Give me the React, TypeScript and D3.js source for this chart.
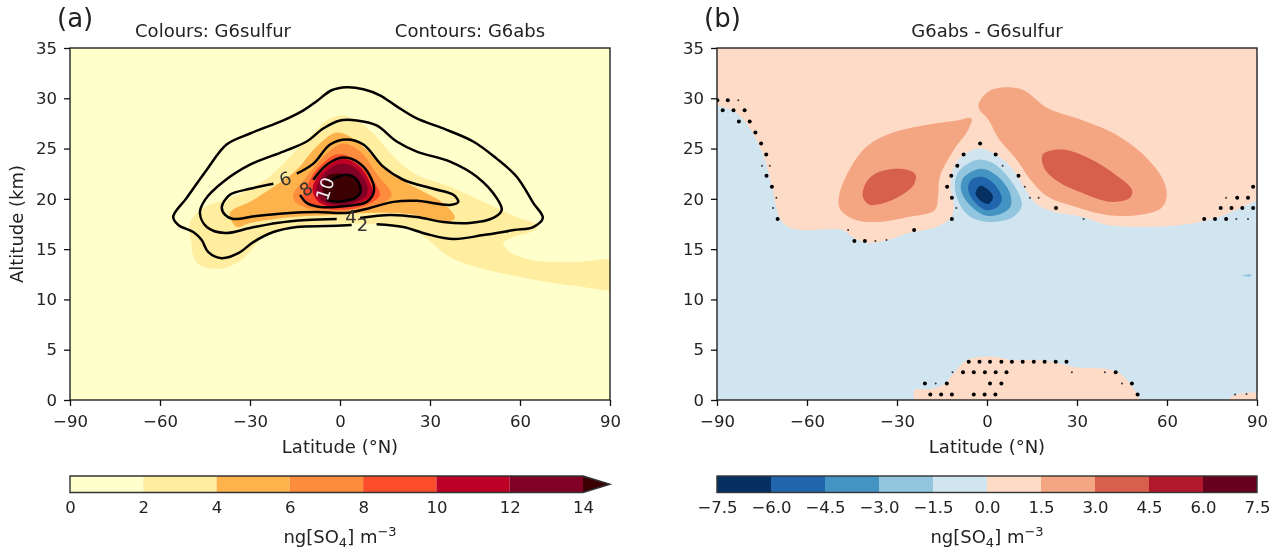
import React, { useEffect, useRef } from 'react';
import * as d3 from 'd3';

type Pt = [number, number];

const WIDTH = 1275;
const HEIGHT = 551;
const FONT = '"DejaVu Sans", sans-serif';
const LABEL_SIZE = 18;
const TICK_SIZE = 16.5;

const latTicks = [-90, -60, -30, 0, 30, 60, 90];
const altTicks = [0, 5, 10, 15, 20, 25, 30, 35];

const leftLevels = [0, 2, 4, 6, 8, 10, 12, 14];
const leftColours = ['#ffffcc', '#ffeda0', '#feb24c', '#fd8d3c', '#fc4e2a', '#bd0026', '#800026'];
const leftOverColour = '#3b0002';
const rightLevels = [-7.5, -6, -4.5, -3, -1.5, 0, 1.5, 3, 4.5, 6, 7.5];
const rightColours = ['#053061', '#2166ac', '#4393c3', '#92c5de', '#d1e5f0', '#fddbc7', '#f4a582', '#d6604d', '#b2182b', '#67001f'];

// panel (a) filled bands, G6sulfur, [lat, km]
const band2to4: Pt[] = [[-50, 17.6], [-49.5, 15.5], [-48.9, 14.3], [-46.7, 13.4], [-38.9, 13.1], [-32.2, 14.1], [-25.6, 16.2], [-18, 17.1], [-4, 17.5], [14, 17.4], [25, 16.8], [36.7, 14.2], [47, 13.1], [58.9, 12.3], [76.7, 11.4], [95, 11.2], [95, 13.7], [76.7, 13.7], [64.4, 13.9], [56.7, 14.7], [54.4, 15.6], [57.8, 16.2], [65, 16.9], [65.6, 17.4], [58.9, 18.2], [47.8, 19.7], [36.7, 21.2], [25.6, 22.4], [18.9, 23.9], [11.1, 26.5], [5.6, 27.8], [0, 28.3], [-4.4, 27.8], [-10, 26.2], [-15.6, 24.5], [-24.4, 22], [-35.6, 20.2], [-45.6, 19.1]];
const band4to6: Pt[] = [[-36.7, 18.6], [-30, 19.7], [-21.1, 21.4], [-14.4, 22.9], [-7.8, 25.2], [-1.1, 26.6], [4.4, 26], [12.2, 23.9], [18.9, 22.2], [27.8, 20.7], [34.4, 19.6], [38.3, 18.1], [34.4, 17.7], [23.3, 18.5], [8.9, 18.6], [-2.2, 18.4], [-15.6, 18.2], [-30, 17.6], [-34.4, 17.2]];
const band6to8: Pt[] = [[-15.6, 20.4], [-11.1, 22.2], [-4.4, 24.5], [1.1, 25.5], [6.7, 24.7], [12.2, 22.5], [17.2, 20.4], [14.4, 19.6], [5.6, 18.9], [-3.3, 18.7], [-11.1, 19.1], [-15, 19.7]];
const band8to10: Pt[] = [[-11.1, 21.2], [-7.8, 22.9], [-1.1, 24.4], [4.4, 24], [10, 22.2], [13.3, 20.4], [8.9, 19.4], [-1.1, 18.9], [-8.9, 19.4], [-12.2, 20.2]];
const band10to12: Pt[] = [[-8.9, 21.4], [-4.4, 23.2], [1.1, 24], [6.7, 23.2], [10.6, 21.2], [11.1, 20.4], [6.7, 19.6], [-1.1, 19.2], [-6.7, 19.6], [-8.9, 20.5]];
const band12to14: Pt[] = [[-6.7, 21.9], [-1.1, 23.4], [4.4, 23.2], [8.9, 21.5], [8.9, 20.4], [4.4, 19.6], [-1.1, 19.4], [-5.6, 19.7], [-7.8, 20.7]];
const bandOver14: Pt[] = [[-4.4, 22.2], [0.6, 22.5], [5, 22], [6.9, 20.9], [5.6, 20], [0.6, 19.7], [-3.3, 19.7], [-5.6, 20.7]];

// panel (a) contours, G6abs; left open where the labels sit
const contour2: Pt[] = [[12.2, 17.47], [21.1, 17.2], [28.9, 16.5], [37.8, 16], [47.8, 16.4], [58, 16.9], [64.4, 17.2], [67.6, 18.1], [64.4, 19.6], [58.9, 22.2], [52.2, 24], [44.4, 25.7], [34.4, 27], [25.6, 28], [18.9, 29.2], [13.3, 30.3], [7.8, 30.9], [2.2, 31.1], [-2.8, 30.8], [-7.8, 29.7], [-12.2, 28.8], [-18.9, 27.8], [-30, 26.5], [-37.8, 25.4], [-44.4, 22.9], [-51.1, 20.1], [-55.6, 18.2], [-53.9, 17.4], [-48.9, 16.7], [-46.1, 15.9], [-43.9, 14.7], [-39.4, 14.1], [-33.9, 14.6], [-28.9, 15.7], [-22.2, 16.7], [-14.4, 17.2], [-4.4, 17.3], [3.9, 17.4]];
const contour4: Pt[] = [[6.7, 18.1], [16.7, 18.4], [25.6, 18.2], [34.4, 17.7], [43.3, 17.6], [51.1, 18.1], [53.9, 18.9], [52.2, 20.1], [45.6, 22.2], [36.7, 23.7], [25.6, 24.7], [18.9, 25.7], [12.2, 27.3], [5.6, 27.8], [0, 27.8], [-5.6, 27], [-11.1, 25.7], [-18.9, 24.7], [-30, 23.4], [-38.9, 21.7], [-45, 19.9], [-46.7, 18.6], [-44.4, 17.2], [-38.3, 16.6], [-30, 17.1], [-21.1, 17.6], [-11.1, 17.9], [-1.1, 18]];
const contour6: Pt[] = [[-14.4, 22.5], [-8.9, 23.5], [-3.3, 25.4], [2.2, 25.9], [7.8, 25.4], [14.4, 23.2], [21.1, 21.9], [31.1, 21], [37.8, 20.4], [39.4, 19.7], [36.7, 19.4], [25.6, 19.8], [17.8, 19.7], [10, 19.1], [2.2, 18.6], [-7.8, 18.7], [-16.7, 18.6], [-27.8, 18.3], [-35.6, 18], [-38.3, 18.4], [-39.4, 19.2], [-36.7, 20.4], [-30, 21], [-22.2, 21.5]];
const contour8: Pt[] = [[-8.9, 21.9], [-4.4, 23.4], [1.1, 24.1], [6.7, 23.5], [10.6, 21.9], [11.3, 20.7], [8.9, 19.7], [2.2, 19.3], [-6.7, 19.2], [-11.1, 19.6], [-13.3, 20.4]];
const contour10: Pt[] = [[-2.8, 21.9], [2.2, 22.4], [5.6, 21.9], [6.9, 20.7], [5, 20.1], [-1.1, 19.7], [-4.4, 19.9]];

const contourLabelText = ['2', '4', '6', '8', '10'];
const contourLabelLat = [7.5, 3.7, -18.3, -11.3, -5];
const contourLabelAlt = [17.4, 18.2, 22, 21, 21];
const contourLabelAngle = [0, 0, -20, -35, -72];
const contourLabelFill = ['#333', '#333', '#333', '#333', '#eee'];

// panel (b) difference regions
const negative: Pt[] = [[-95, 29.5], [-90, 29.3], [-89, 29.2], [-84.3, 28.7], [-79.7, 27.3], [-76.2, 25.5], [-73.3, 23.2], [-71.5, 20.9], [-69.2, 18.2], [-66.3, 17.2], [-61, 16.9], [-48.3, 16.9], [-44.8, 16.2], [-40.1, 15.6], [-33.1, 15.9], [-26.2, 16.6], [-16.9, 17.2], [-12.2, 18.1], [-11, 19.2], [-12.2, 21.2], [-11, 23.2], [-7.6, 24.4], [-2.3, 25], [2.9, 24.4], [8.7, 22.9], [12.2, 21.2], [16.9, 19.4], [22.7, 18.7], [32, 18.2], [40.1, 17.4], [54.1, 17.2], [64.5, 17.4], [73.8, 17.9], [83.1, 18.9], [89.5, 19.8], [95, 20.5], [95, -5], [-95, -5]];
const hillLow: Pt[] = [[-25, -0.5], [-24.4, 0], [-24.1, 1], [-19.2, 1.06], [-14.6, 1.5], [-11.1, 2.65], [-6.5, 4], [2.8, 4.3], [7.4, 4], [20.2, 3.9], [29.4, 3.25], [37.5, 3.15], [43.3, 2.8], [48, 1.5], [50.9, 0.07], [52, -0.5]];
const hillCorner: Pt[] = [[80, -0.5], [80.4, 0], [82.7, 0.5], [89.7, 0.76], [95, 0.8], [95, -0.5]];
const peachLeft: Pt[] = [[-5.2, 28], [-9.9, 27.8], [-21.5, 27.3], [-33.1, 26.4], [-40.1, 25.2], [-45.3, 23.2], [-49.4, 20.2], [-48.8, 18.9], [-43.6, 17.9], [-36.6, 17.7], [-26.2, 18.2], [-17.4, 18.9], [-16.3, 20.2], [-15.7, 22.2], [-11, 24.9], [-6.4, 26.8]];
const redLeft: Pt[] = [[-23.8, 22.4], [-26.7, 22.9], [-33.1, 22.9], [-37.8, 22.4], [-40.7, 21.4], [-41.3, 20.1], [-39, 19.4], [-33.1, 19.7], [-27.3, 20.6], [-24.4, 21.4]];
const peachRight: Pt[] = [[-2.9, 29.2], [0.6, 30.7], [6.4, 31.1], [12.2, 30.8], [20.3, 29], [32, 27.8], [42.4, 26.5], [51.7, 24.5], [58.7, 21.9], [59.9, 20.2], [58.1, 19.1], [50.6, 18.4], [40.1, 18.4], [30.8, 19.1], [20.3, 20.2], [14.5, 21.9], [9.9, 23.9], [4.1, 25.9], [0.6, 27.8]];
const redRight: Pt[] = [[18.6, 24.4], [25, 24.9], [34.3, 24], [42.4, 22.5], [48.3, 20.9], [47.7, 20.1], [41.3, 19.7], [30.8, 20.7], [23.8, 21.7], [19.2, 23]];
const blueSpeck: Pt[] = [[85, 12.35], [88, 12.5], [88, 12.3]];
const blueA: Pt[] = [[-1.7, 23.9], [2.9, 23.4], [8.7, 21.5], [11.6, 19.4], [8.7, 18.2], [0.6, 17.7], [-6.4, 18.4], [-10.5, 20.6], [-9.9, 22.5], [-5.8, 23.6]];
const blueB: Pt[] = [[-2.3, 23], [2.9, 22.4], [7.6, 20.6], [7.6, 19.1], [0.6, 18.3], [-4.7, 19.1], [-8.5, 20.7], [-8.1, 22]];
const blueC: Pt[] = [[-1.7, 22.2], [2.3, 21.5], [5, 20], [3.5, 19.2], [-0.6, 18.9], [-4.7, 19.9], [-6.3, 21], [-5.2, 21.9]];
const blueD: Pt[] = [[-2.3, 21.3], [0, 21], [2, 20.2], [0.6, 19.5], [-1.7, 19.7], [-3.8, 20.5]];

// stippling, big dots then the partly hidden small ones
const bigDots: Pt[] = [
  [-18.9, 0.55], [-15.3, 0.55], [-11.7, 0.55], [-4.4, 0.55], [-0.8, 0.55], [2.8, 0.55], [50.2, 0.55],
  [-20.7, 1.65], [-13.4, 1.65], [1, 1.65], [4.8, 1.65], [48.3, 1.65],
  [-8, 2.75], [-4.4, 2.75], [-0.7, 2.75], [2.9, 2.75], [6.5, 2.75], [42.9, 2.75],
  [-6.1, 3.8], [-2.5, 3.8], [1, 3.8], [4.8, 3.8], [8.3, 3.8], [11.9, 3.8], [15.6, 3.8], [19.2, 3.8], [22.9, 3.8], [26.5, 3.8],
  [-44.2, 15.8], [-40.7, 15.8], [-24.3, 16.9],
  [-69.8, 18], [-11.7, 18], [72.4, 18], [76, 18], [79.7, 18],
  [23, 19.1], [77.9, 19.1], [81.5, 19.1], [85.1, 19.1], [88.7, 19.1],
  [-11.7, 20.1], [83.4, 20.1], [87, 20.1],
  [-71.7, 21.2], [-13.3, 21.2], [88.7, 21.2],
  [-73.5, 22.3], [-11.9, 22.3], [10.5, 22.3],
  [-9.9, 23.3], [-73.6, 24.4], [-7.8, 24.4], [2.9, 24.4],
  [-75.3, 25.5], [-2.3, 25.5], [-77.2, 26.6],
  [-82.7, 27.7], [-79.1, 27.7], [-88.1, 28.8], [-84.5, 28.8], [-80.8, 28.8],
  [-89.9, 29.8], [-86.4, 29.8],
];
const smallDots: Pt[] = [
  [82.7, 0.55], [86.5, 0.6], [-17.1, 1.65], [45, 1.65], [-11.5, 2.75], [28.3, 2.75], [39.3, 2.75],
  [-37.2, 15.8], [-33.5, 15.9], [-46.3, 16.9], [32.2, 18], [83.1, 18], [87, 18],
  [-71.3, 19.1], [-10.2, 19.1], [-70.2, 20.1], [14.3, 20.1], [17.2, 20.1], [79.7, 20.1],
  [12.6, 21.2], [-75, 23.3], [-72.4, 23.3], [5.2, 23.3], [-82.9, 29.8],
];

const PANEL_TOP = 48;
const PANEL_BOTTOM = 400;
const CBAR_TOP = 476;
const CBAR_BOTTOM = 492.5;

const xA = d3.scaleLinear().domain([-90, 90]).range([70, 610]);
const xB = d3.scaleLinear().domain([-90, 90]).range([717, 1257]);
const yAlt = d3.scaleLinear().domain([0, 35]).range([PANEL_BOTTOM, PANEL_TOP]);
const cbarA = d3.scaleLinear().domain([0, 14]).range([70, 583]);
const cbarB = d3.scaleLinear().domain([-7.5, 7.5]).range([717, 1257]);

const closedPath = (x: d3.ScaleLinear<number, number>) =>
  d3.line<Pt>().x(d => x(d[0])).y(d => yAlt(d[1])).curve(d3.curveCatmullRomClosed.alpha(0.5));
const openPath = (x: d3.ScaleLinear<number, number>) =>
  d3.line<Pt>().x(d => x(d[0])).y(d => yAlt(d[1])).curve(d3.curveCatmullRom.alpha(0.5));

const minusSign = (v: d3.NumberValue, digits = 0) => d3.format(`.${digits}f`)(v as number).replace('-', '\u2212');

const UnitLabel: React.FC<{ x: number }> = ({ x }) => (
  <text x={x} y={543} textAnchor="middle" fontSize={LABEL_SIZE}>
    ng[SO<tspan dy={4} fontSize={13}>4</tspan><tspan dy={-4}>] m</tspan>
    <tspan dy={-7} fontSize={13}>−3</tspan>
  </text>
);

const App: React.FC = () => {
  const svgRef = useRef<SVGSVGElement>(null);

  useEffect(() => {
    if (!svgRef.current) return;
    const svg = d3.select(svgRef.current);
    svg.selectAll('.axis').remove();

    const addAxis = (axis: any, tx: number, ty: number) => {
      const g = svg.append('g')
        .attr('class', 'axis')
        .attr('transform', `translate(${tx},${ty})`)
        .call(axis);
      g.selectAll('text').attr('font-size', TICK_SIZE).attr('font-family', FONT).attr('fill', '#222');
      g.selectAll('line').attr('stroke', '#111').attr('stroke-width', 1.3);
      g.select('.domain').remove();
    };

    [xA, xB].forEach(x => {
      addAxis(d3.axisBottom(x).tickValues(latTicks).tickSize(6).tickPadding(9).tickFormat(d => minusSign(d)), 0, PANEL_BOTTOM);
      addAxis(d3.axisLeft(yAlt).tickValues(altTicks).tickSize(6).tickPadding(7).tickFormat(d => minusSign(d)), x.range()[0], 0);
    });
    addAxis(d3.axisBottom(cbarA).tickValues(leftLevels).tickSize(0).tickPadding(9).tickFormat(d => minusSign(d)), 0, CBAR_BOTTOM);
    addAxis(d3.axisBottom(cbarB).tickValues(rightLevels).tickSize(0).tickPadding(9).tickFormat(d => minusSign(d, 1)), 0, CBAR_BOTTOM);
  }, []);

  const fillA = closedPath(xA);
  const fillB = closedPath(xB);
  const lineA = openPath(xA);

  const bandsA: [Pt[], string][] = [
    [band2to4, leftColours[1]], [band4to6, leftColours[2]], [band6to8, leftColours[3]],
    [band8to10, leftColours[4]], [band10to12, leftColours[5]], [band12to14, leftColours[6]], [bandOver14, leftOverColour],
  ];
  const regionsB: [Pt[], string][] = [
    [negative, rightColours[4]], [hillLow, rightColours[5]], [hillCorner, rightColours[5]], [blueSpeck, rightColours[3]],
    [peachLeft, rightColours[6]], [redLeft, rightColours[7]], [peachRight, rightColours[6]], [redRight, rightColours[7]],
    [blueA, rightColours[3]], [blueB, rightColours[2]], [blueC, rightColours[1]], [blueD, rightColours[0]],
  ];
  const contours = [contour2, contour4, contour6, contour8, contour10];

  return (
    <svg
      ref={svgRef}
      width={WIDTH}
      height={HEIGHT}
      viewBox={`0 0 ${WIDTH} ${HEIGHT}`}
      style={{ position: 'absolute', left: 0, top: 0, display: 'block', background: '#fff', filter: 'blur(0.35px)' }}
      fontFamily={FONT}
      fill="#222"
    >
      <defs>
        <clipPath id="clipA"><rect x={70} y={PANEL_TOP} width={540} height={PANEL_BOTTOM - PANEL_TOP} /></clipPath>
        <clipPath id="clipB"><rect x={717} y={PANEL_TOP} width={540} height={PANEL_BOTTOM - PANEL_TOP} /></clipPath>
      </defs>

      {/* panel a */}
      <g clipPath="url(#clipA)">
        <rect x={70} y={PANEL_TOP} width={540} height={PANEL_BOTTOM - PANEL_TOP} fill={leftColours[0]} />
        {bandsA.map(([pts, c], i) => <path key={i} d={fillA(pts) || ''} fill={c} />)}
        {contours.map((pts, i) => (
          <path key={i} d={lineA(pts) || ''} fill="none" stroke="#000" strokeWidth={2.5} />
        ))}
        {contourLabelText.map((t, i) => {
          const px = xA(contourLabelLat[i]);
          const py = yAlt(contourLabelAlt[i]);
          return (
            <text key={t} x={px} y={py} dy="0.36em" textAnchor="middle" fontSize={LABEL_SIZE} fill={contourLabelFill[i]}
              transform={`rotate(${contourLabelAngle[i]} ${px} ${py})`}>{t}</text>
          );
        })}
      </g>
      <rect x={70} y={PANEL_TOP} width={540} height={PANEL_BOTTOM - PANEL_TOP} fill="none" stroke="#222" strokeWidth={1.4} />

      {/* panel b */}
      <g clipPath="url(#clipB)">
        <rect x={717} y={PANEL_TOP} width={540} height={PANEL_BOTTOM - PANEL_TOP} fill={rightColours[5]} />
        {regionsB.map(([pts, c], i) => <path key={i} d={fillB(pts) || ''} fill={c} />)}
        {bigDots.map((d, i) => <circle key={i} cx={xB(d[0])} cy={yAlt(d[1])} r={2} fill="#000" />)}
        {smallDots.map((d, i) => <circle key={i} cx={xB(d[0])} cy={yAlt(d[1])} r={1} fill="#333" />)}
      </g>
      <rect x={717} y={PANEL_TOP} width={540} height={PANEL_BOTTOM - PANEL_TOP} fill="none" stroke="#222" strokeWidth={1.4} />

      {/* titles */}
      <text x={57} y={27} fontSize={26}>(a)</text>
      <text x={704} y={27} fontSize={26}>(b)</text>
      <text x={213} y={37} textAnchor="middle" fontSize={LABEL_SIZE}>Colours: G6sulfur</text>
      <text x={470} y={37} textAnchor="middle" fontSize={LABEL_SIZE}>Contours: G6abs</text>
      <text x={987} y={37} textAnchor="middle" fontSize={LABEL_SIZE}>G6abs - G6sulfur</text>
      <text x={340} y={453} textAnchor="middle" fontSize={LABEL_SIZE}>Latitude (°N)</text>
      <text x={987} y={453} textAnchor="middle" fontSize={LABEL_SIZE}>Latitude (°N)</text>
      <text transform={`translate(23,${yAlt(17.5)}) rotate(-90)`} textAnchor="middle" fontSize={LABEL_SIZE}>Altitude (km)</text>

      {/* colour bars */}
      {leftColours.map((c, i) => (
        <rect key={c} x={cbarA(leftLevels[i])} y={CBAR_TOP} width={cbarA(leftLevels[i + 1]) - cbarA(leftLevels[i])} height={CBAR_BOTTOM - CBAR_TOP} fill={c} />
      ))}
      <path d={`M${cbarA(14)},${CBAR_TOP}L610,${(CBAR_TOP + CBAR_BOTTOM) / 2}L${cbarA(14)},${CBAR_BOTTOM}Z`} fill={leftOverColour} />
      <path d={`M70,${CBAR_TOP}H${cbarA(14)}L610,${(CBAR_TOP + CBAR_BOTTOM) / 2}L${cbarA(14)},${CBAR_BOTTOM}H70Z`} fill="none" stroke="#333" strokeWidth={1.4} />
      {rightColours.map((c, i) => (
        <rect key={c} x={cbarB(rightLevels[i])} y={CBAR_TOP} width={cbarB(rightLevels[i + 1]) - cbarB(rightLevels[i])} height={CBAR_BOTTOM - CBAR_TOP} fill={c} />
      ))}
      <rect x={717} y={CBAR_TOP} width={540} height={CBAR_BOTTOM - CBAR_TOP} fill="none" stroke="#333" strokeWidth={1.4} />
      <UnitLabel x={340} />
      <UnitLabel x={987} />
    </svg>
  );
};

export default App;
